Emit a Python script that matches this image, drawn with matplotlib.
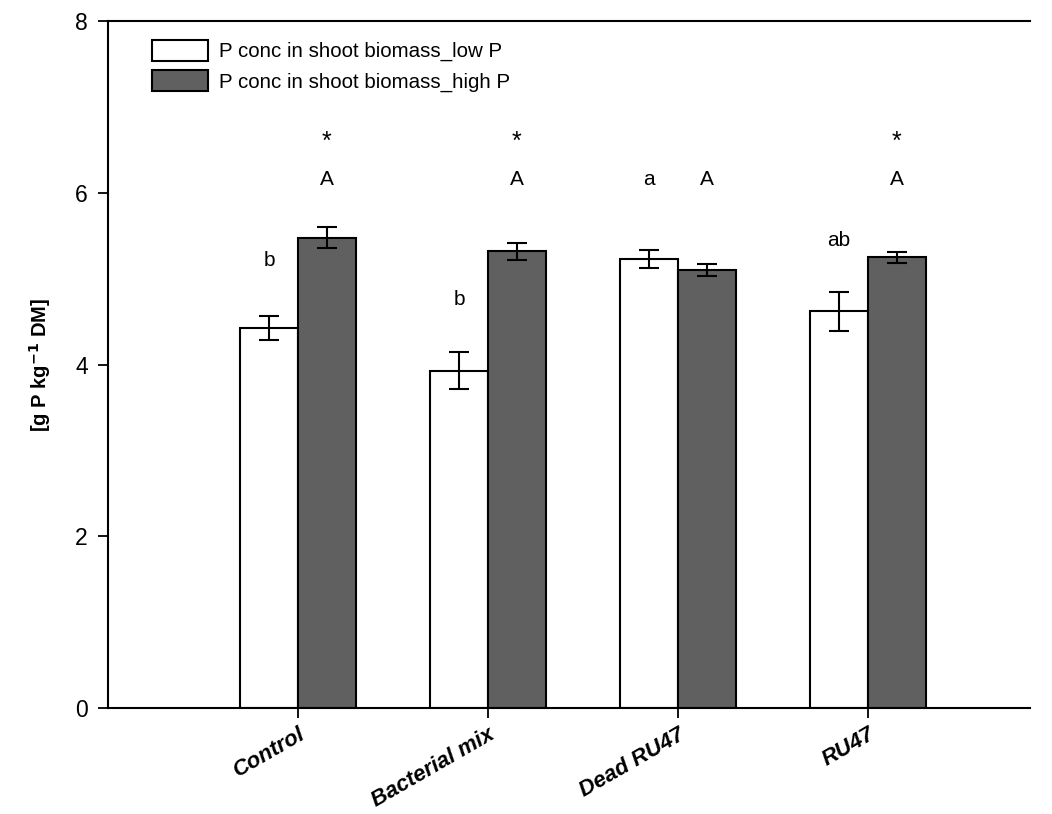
import numpy as np
import matplotlib
matplotlib.use("Agg")
import matplotlib.pyplot as plt

plt.rcParams['font.family'] = ['Liberation Sans', 'DejaVu Sans']

groups = ["Control", "Bacterial mix", "Dead RU47", "RU47"]
low_p = [4.43, 3.93, 5.23, 4.62]
low_err = [0.14, 0.22, 0.10, 0.23]
high_p = [5.48, 5.32, 5.10, 5.25]
high_err = [0.12, 0.10, 0.07, 0.065]

# significance letters
low_letters = ["b", "b", "a", "ab"]
low_letter_y = [5.21, 4.76, 6.15, 5.45]
high_letters = ["A", "A", "A", "A"]
high_letter_y = [6.15, 6.15, 6.15, 6.15]
stars = ["*", "*", "", "*"]
star_y = 6.6

x = np.arange(1, len(groups) + 1)
w = 0.305

fig = plt.figure(figsize=(10.52, 8.14), dpi=100)
ax = fig.add_axes([0.1027, 0.1302, 0.8763, 0.8438])

ekw = dict(ecolor='black', elinewidth=1.5, capsize=7.5, capthick=1.5)
ax.bar(x - w / 2, low_p, w, yerr=low_err, color='white', edgecolor='black',
       linewidth=1.5, error_kw=ekw, label="P conc in shoot biomass_low P")
ax.bar(x + w / 2, high_p, w, yerr=high_err, color='#606060', edgecolor='black',
       linewidth=1.5, error_kw=ekw, label="P conc in shoot biomass_high P")

for i in range(len(groups)):
    ax.text(x[i] - w / 2, low_letter_y[i], low_letters[i], ha='center', va='center', fontsize=15)
    ax.text(x[i] + w / 2, high_letter_y[i], high_letters[i], ha='center', va='center', fontsize=15)
    if stars[i]:
        ax.text(x[i] + w / 2, star_y, stars[i], ha='center', va='center', fontsize=18)

ax.set_xlim(0, 4.853)
ax.set_ylim(0, 8)
ax.set_yticks([0, 2, 4, 6, 8])
ax.set_xticks(x)
ax.set_xticklabels(groups, rotation=30, ha='right', rotation_mode='anchor',
                   fontsize=16, fontweight='bold', fontstyle='italic')
ax.tick_params(axis='y', labelsize=16.5, direction='out', length=7.5, width=1.3, pad=7)
ax.tick_params(axis='x', direction='out', length=7.5, width=1.3, pad=4)
ax.spines['right'].set_visible(False)
for s in ['left', 'top', 'bottom']:
    ax.spines[s].set_linewidth(1.5)

ax.set_ylabel("[g P kg$^{\\mathbf{-1}}$ DM]", fontsize=14.5, fontweight='bold', labelpad=16)

ax.legend(loc='upper left', bbox_to_anchor=(0.028, 1.0), frameon=False, fontsize=14.8,
          handlelength=2.7, handleheight=1.2, handletextpad=0.55, labelspacing=0.42)

fig.savefig("out.png", dpi=100)
